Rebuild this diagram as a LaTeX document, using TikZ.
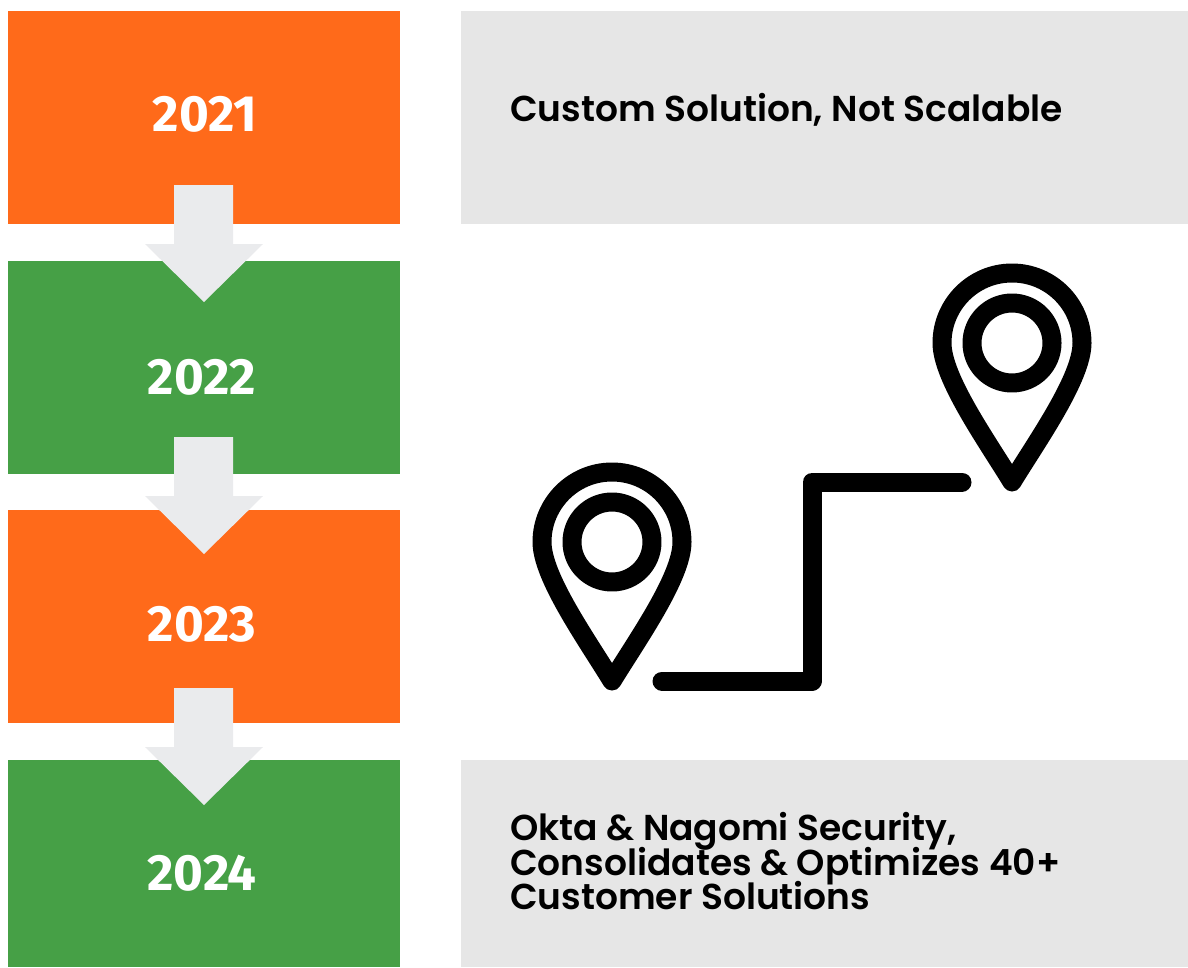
\documentclass[tikz,border=0pt]{standalone}
\usepackage{fontspec}
\setmainfont{Poppins}
\newfontfamily\yearfont{Fira Sans}
\usetikzlibrary{positioning}
\definecolor{boxorange}{HTML}{FF6A1A}
\definecolor{boxgreen}{HTML}{46A046}
\definecolor{boxgray}{HTML}{E6E6E6}
\definecolor{arrowgray}{HTML}{EAEBED}
\tikzset{
    yearbox/.style={inner sep=0pt, minimum width=392pt, anchor=north west, text=white, font=\yearfont\bfseries\fontsize{51}{51}\selectfont},
    infobox/.style={fill=boxgray, inner sep=0pt, minimum width=727pt, anchor=north west},
    infotext/.style={align=left, anchor=west, inner sep=0pt, font=\fontspec{Poppins SemiBold}\fontsize{36}{34}\selectfont},
    flowarrow/.style={fill=arrowgray},
    pinline/.style={draw=black, line width=19pt, line join=round, line cap=round}
}
\newcommand{\downarrowshape}[2]{%
    \fill[flowarrow] (#1-30,#2) -- (#1+29,#2) -- (#1+29,#2+59) -- (#1+59,#2+59)
        -- (#1,#2+117) -- (#1-59,#2+59) -- (#1-30,#2+59) -- cycle;
}
\newcommand{\mappin}[2]{%
    \begin{scope}[shift={(#1,#2)}]
        \draw[pinline] (0,139) .. controls (-25,98) and (-70,35) .. (-70,0)
            arc[start angle=180, end angle=360, radius=70]
            .. controls (70,35) and (25,98) .. cycle;
        \draw[pinline] (0,0) circle (40);
    \end{scope}
}
\begin{document}
\begin{tikzpicture}[x=1pt, y=-1pt]
    \useasboundingbox (0,0) rectangle (1188,967);

    % Year boxes
    \node[yearbox, fill=boxorange, minimum height=213pt] (y2021) at (8,11) {};
    \node[yearbox, fill=boxgreen, minimum height=213pt] (y2022) at (8,261) {};
    \node[yearbox, fill=boxorange, minimum height=213pt] (y2023) at (8,510) {};
    \node[yearbox, fill=boxgreen, minimum height=207pt] (y2024) at (8,760) {};

    % Arrows
    \downarrowshape{204}{185}
    \downarrowshape{204}{437}
    \downarrowshape{204}{688}

    % Year labels
    \node[yearbox, minimum width=0pt, anchor=center] (t2021) at (205,114) {2021};
    \node[yearbox, minimum width=0pt, anchor=center] (t2022) at (202,377) {2022};
    \node[yearbox, minimum width=0pt, anchor=center] (t2023) at (202,624) {2023};
    \node[yearbox, minimum width=0pt, anchor=center] (t2024) at (202,873) {2024};

    % Text boxes
    \node[infobox, minimum height=213pt] (top) at (461,11) {};
    \node[infobox, minimum height=207pt] (bottom) at (461,760) {};
    \node[infotext] (toptext) at (510,110) {Custom Solution, Not Scalable};
    \node[infotext] (bottomtext) at (510,861) {Okta \& Nagomi Security,\\[-4.5pt]Consolidates \& Optimizes 40+\\[-4.5pt]Customer Solutions};

    % Route
    \mappin{612}{542}
    \mappin{1012}{343}
    \draw[pinline] (662,681) -- (812,681) -- (812,482) -- (962,482);
\end{tikzpicture}
\end{document}
